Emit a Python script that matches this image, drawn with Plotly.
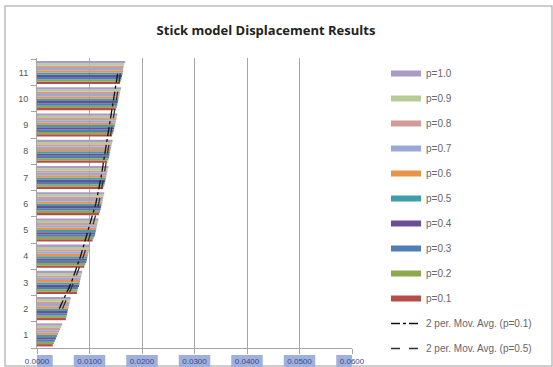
import plotly.graph_objects as go

categories = ["1", "2", "3", "4", "5", "6", "7", "8", "9", "10", "11"]
series_names = ["p=0.1", "p=0.2", "p=0.3", "p=0.4", "p=0.5",
                "p=0.6", "p=0.7", "p=0.8", "p=0.9", "p=1.0"]
p01 = [0.0030, 0.0055, 0.0076, 0.0090, 0.0106, 0.0118, 0.0126, 0.0134, 0.0143, 0.0150, 0.0158]
p02 = [0.0032, 0.0056, 0.0077, 0.0092, 0.0108, 0.0120, 0.0128, 0.0136, 0.0145, 0.0152, 0.0160]
p03 = [0.0034, 0.0057, 0.0078, 0.0094, 0.0110, 0.0121, 0.0129, 0.0137, 0.0146, 0.0153, 0.0161]
p04 = [0.0036, 0.0058, 0.0080, 0.0095, 0.0111, 0.0122, 0.0130, 0.0138, 0.0147, 0.0154, 0.0162]
p05 = [0.0038, 0.0059, 0.0081, 0.0096, 0.0112, 0.0123, 0.0131, 0.0139, 0.0148, 0.0155, 0.0163]
p06 = [0.0040, 0.0060, 0.0082, 0.0097, 0.0113, 0.0124, 0.0132, 0.0140, 0.0149, 0.0156, 0.0164]
p07 = [0.0042, 0.0061, 0.0083, 0.0098, 0.0114, 0.0125, 0.0133, 0.0141, 0.0150, 0.0157, 0.0164]
p08 = [0.0044, 0.0062, 0.0084, 0.0099, 0.0115, 0.0126, 0.0134, 0.0142, 0.0151, 0.0158, 0.0165]
p09 = [0.0046, 0.0063, 0.0085, 0.0100, 0.0116, 0.0127, 0.0135, 0.0143, 0.0152, 0.0159, 0.0166]
p10 = [0.0048, 0.0064, 0.0086, 0.0101, 0.0117, 0.0128, 0.0136, 0.0144, 0.0153, 0.0160, 0.0168]
series_values = [p01, p02, p03, p04, p05, p06, p07, p08, p09, p10]
colors = ["#b84c4a", "#8fa84f", "#4f7db5", "#6b4f96", "#3f9ea8",
          "#e8924a", "#9aa8d8", "#d19b98", "#b7cc94", "#a99bc4"]
x_ticks = [0.0, 0.01, 0.02, 0.03, 0.04, 0.05, 0.06]
x_tick_labels = ["0.0000", "0.0100", "0.0200", "0.0300", "0.0400", "0.0500", "0.0600"]

fig = go.Figure()

for name, vals, col in zip(series_names, series_values, colors):
    fig.add_trace(go.Bar(y=categories, x=vals, orientation="h", name=name,
                         marker=dict(color=col, line=dict(width=0)),
                         showlegend=False))

def mov_avg(v):
    return [(v[i - 1] + v[i]) / 2 for i in range(1, len(v))]

fig.add_trace(go.Scatter(y=categories[1:], x=mov_avg(p01), mode="lines",
                         line=dict(color="#111111", width=1.3, dash="dashdot"),
                         showlegend=False))
fig.add_trace(go.Scatter(y=categories[1:], x=mov_avg(p05), mode="lines",
                         line=dict(color="#333333", width=1.3, dash="dash"),
                         showlegend=False))

# legend entries (top: p=1.0 ... bottom)
for i, (name, col) in enumerate(reversed(list(zip(series_names, colors)))):
    fig.add_trace(go.Scatter(x=[None], y=[None], mode="lines", name=name,
                             line=dict(color=col, width=6), legendgroup="g%d" % i))
fig.add_trace(go.Scatter(x=[None], y=[None], mode="lines", name="2 per. Mov. Avg. (p=0.1)",
                         line=dict(color="#111111", width=1.3, dash="dashdot"), legendgroup="ma1"))
fig.add_trace(go.Scatter(x=[None], y=[None], mode="lines", name="2 per. Mov. Avg. (p=0.5)",
                         line=dict(color="#333333", width=1.3, dash="dash"), legendgroup="ma2"))

L, R, T, B = 37, 352, 58, 348
W, H = 553, 367
def px_x(p):
    return (p - L) / (R - L)
def px_y(p):
    return (B - p) / (B - T)

shapes = [dict(type="rect", xref="paper", yref="paper",
               x0=px_x(5), x1=px_x(552), y0=px_y(366), y1=px_y(6),
               line=dict(color="#bdbdbd", width=1.5), fillcolor="rgba(0,0,0,0)", layer="below")]
for t in x_ticks:
    shapes.append(dict(type="rect", xref="x", yref="paper",
                       x0=t - 0.003, x1=t + 0.003, y0=px_y(368), y1=px_y(355),
                       line=dict(width=0), fillcolor="#9fb0dc", layer="below"))

fig.update_layout(
    width=W, height=H,
    margin=dict(l=L, r=W - R, t=T, b=H - B, autoexpand=False),
    paper_bgcolor="white", plot_bgcolor="white",
    barmode="group", bargap=0.12, bargroupgap=0,
    title=dict(text="<b>Stick model Displacement Results</b>", x=266 / W, xanchor="center",
               y=1 - 30 / H, yanchor="middle",
               font=dict(family="Open Sans", size=13, color="#222222")),
    font=dict(family="Liberation Sans", size=9, color="#555555"),
    legend=dict(x=px_x(386), y=px_y(59), xanchor="left", yanchor="top",
                traceorder="grouped", tracegroupgap=6, itemwidth=30,
                maxheight=340,
                font=dict(size=10, color="#666666"), bgcolor="rgba(0,0,0,0)"),
    shapes=shapes,
)
fig.update_xaxes(range=[0, 0.06], tickvals=x_ticks, ticktext=x_tick_labels,
                 showgrid=True, gridcolor="#a6a6a6", gridwidth=1,
                 showline=True, linecolor="#a6a6a6", ticks="outside", ticklen=5,
                 tickcolor="#a6a6a6", tickfont=dict(size=8, color="#3a4a8a"),
                 zeroline=False, mirror=False)
fig.update_yaxes(type="category", categoryorder="array", categoryarray=categories,
                 showline=True, linecolor="#a6a6a6", ticks="outside", ticklen=5,
                 tickcolor="#a6a6a6", tickson="boundaries", showgrid=False,
                 ticklabelstandoff=6,
                 tickfont=dict(size=9, color="#555555"))

fig.write_html("out.html")
